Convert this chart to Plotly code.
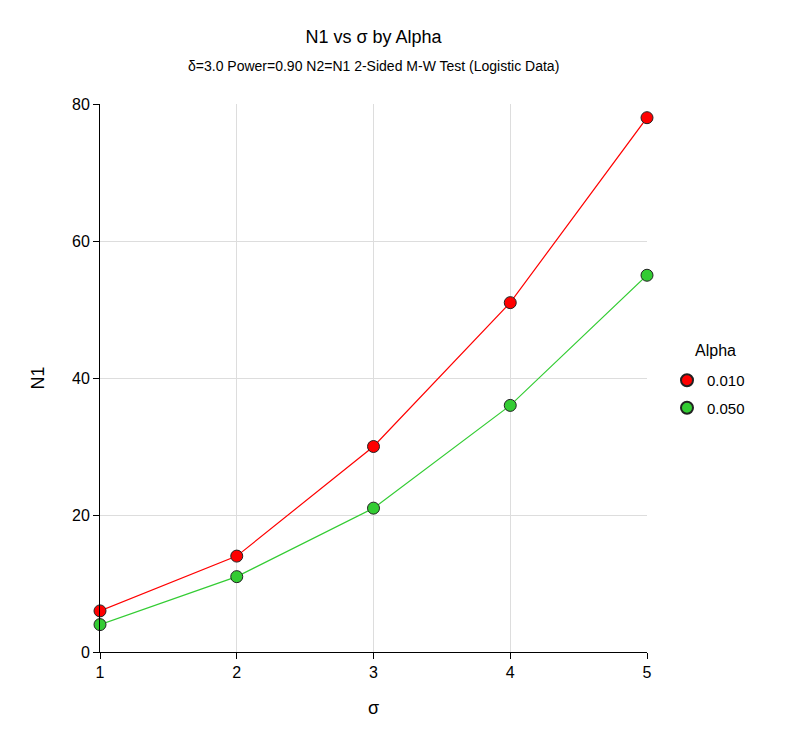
import plotly.graph_objects as go

sigma = [1, 2, 3, 4, 5]
alpha_labels = ["0.010", "0.050"]
n1_alpha_010 = [6, 14, 30, 51, 78]
n1_alpha_050 = [4, 11, 21, 36, 55]
series = [n1_alpha_010, n1_alpha_050]
colors = ["#FF0000", "#33CC33"]

fig = go.Figure()
for lab, vals, c in zip(alpha_labels, series, colors):
    fig.add_trace(go.Scatter(
        x=sigma, y=vals, name=lab, mode="lines", showlegend=False,
        line=dict(color=c, width=1.2), cliponaxis=False, legendgroup=lab,
    ))
for lab, vals, c in zip(alpha_labels, series, colors):
    fig.add_trace(go.Scatter(
        x=sigma, y=vals, name=lab, mode="markers", legendgroup=lab,
        marker=dict(size=12, color=c, line=dict(color="#222222", width=1)),
        cliponaxis=False,
    ))

fig.update_layout(
    width=801, height=730,
    paper_bgcolor="white", plot_bgcolor="white",
    margin=dict(l=92, r=162, t=96, b=86),
    font=dict(family="Liberation Sans, Arial, sans-serif", color="#000000", size=16),
    title=dict(
        text="N1 vs σ by Alpha",
        x=0.5, xanchor="center", xref="paper", y=1 - 29 / 730, yanchor="middle",
        font=dict(size=18),
    ),
    annotations=[
        dict(
            text="δ=3.0 Power=0.90 N2=N1 2-Sided M-W Test (Logistic Data)",
            xref="paper", yref="paper", x=0.5, y=1, xanchor="center", yanchor="middle",
            yshift=38, showarrow=False, font=dict(size=14),
        ),
        dict(
            text="Alpha", xref="paper", yref="paper",
            x=(693 - 100) / 547, y=(652 - 350) / 548, xanchor="left", yanchor="middle",
            showarrow=False, font=dict(size=16),
        ),
    ],
    legend=dict(
        x=(667 - 100) / 547, xanchor="left", y=(652 - 364) / 548, yanchor="top",
        font=dict(size=15), itemsizing="constant", tracegroupgap=5,
    ),
    showlegend=True,
)
fig.update_xaxes(
    range=[1, 5], tickvals=sigma, showgrid=True, gridcolor="#DDDDDD", gridwidth=1,
    showline=True, linecolor="#000000", linewidth=1, ticks="outside", ticklen=6,
    tickcolor="#000000", zeroline=False,
    title=dict(text="σ", font=dict(size=18), standoff=21),
)
fig.update_yaxes(
    range=[0, 80], tickvals=[0, 20, 40, 60, 80], showgrid=True, gridcolor="#DDDDDD", gridwidth=1,
    showline=True, linecolor="#000000", linewidth=1, ticks="outside", ticklen=6,
    tickcolor="#000000", zeroline=False,
    title=dict(text="N1", font=dict(size=18), standoff=22),
)
fig.write_html("out.html")
